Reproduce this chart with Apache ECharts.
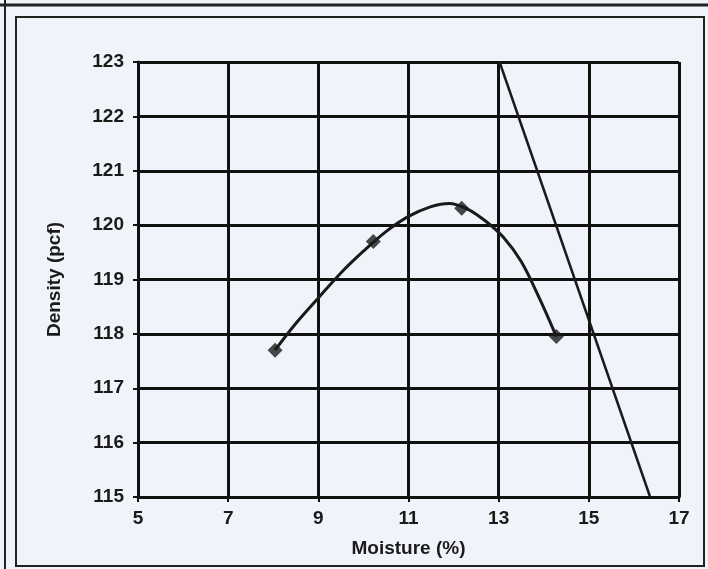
<!DOCTYPE html>
<html><head><meta charset="utf-8">
<script src="https://cdn.jsdelivr.net/npm/echarts@6/dist/echarts.min.js"></script>
<style>html,body{margin:0;padding:0;background:#f0f3fa;}#c{width:708px;height:569px;}</style>
</head><body><div id="c"></div>
<script>
const xTicks = [5, 7, 9, 11, 13, 15, 17];
const yTicks = [115, 116, 117, 118, 119, 120, 121, 122, 123];
const testMoisture = [8.04, 10.22, 12.18, 14.28];
const testDensity = [117.70, 119.70, 120.31, 117.95];
const curveMoisture = [8.04, 8.5, 9.0, 9.5, 10.0, 10.5, 11.0, 11.5, 11.9, 12.3, 12.7, 13.1, 13.5, 13.9, 14.28];
const curveDensity = [117.70, 118.19, 118.66, 119.12, 119.52, 119.88, 120.16, 120.34, 120.40, 120.30, 120.08, 119.78, 119.33, 118.66, 117.95];
const zavMoisture = [13.02, 16.36];
const zavDensity = [123, 115];

const zip = (a, b) => a.map((v, i) => [v, b[i]]);
const lab = {color: '#1a1a1a', fontFamily: 'Liberation Sans, Arial, sans-serif', fontWeight: 'bold', fontSize: 19};
const chart = echarts.init(document.getElementById('c'));
chart.setOption({
  backgroundColor: '#f0f3fa',
  animation: false,
  graphic: [
    {type: 'line', shape: {x1: 0, y1: 5, x2: 708, y2: 5}, style: {stroke: '#222', lineWidth: 3}},
    {type: 'line', shape: {x1: 5, y1: 0, x2: 5, y2: 569}, style: {stroke: '#222', lineWidth: 2}},
    {type: 'rect', shape: {x: 16, y: 17, width: 688, height: 549}, style: {fill: 'none', stroke: '#222', lineWidth: 2}}
  ],
  grid: {left: 138, right: 29, top: 62, bottom: 72},
  xAxis: {
    type: 'value', min: xTicks[0], max: xTicks[xTicks.length - 1], interval: 2,
    name: 'Moisture (%)', nameLocation: 'middle', nameGap: 42,
    nameTextStyle: lab,
    axisLine: {lineStyle: {color: '#111', width: 3}},
    axisTick: {show: true, length: 5, lineStyle: {color: '#111', width: 2}},
    axisLabel: Object.assign({margin: 12}, lab),
    splitLine: {show: true, lineStyle: {color: '#111', width: 3}}
  },
  yAxis: {
    type: 'value', min: yTicks[0], max: yTicks[yTicks.length - 1], interval: 1,
    name: 'Density (pcf)', nameLocation: 'middle', nameGap: 74, nameRotate: 90,
    nameTextStyle: lab,
    axisLine: {show: true, lineStyle: {color: '#111', width: 3}},
    axisTick: {show: true, length: 5, lineStyle: {color: '#111', width: 2}},
    axisLabel: Object.assign({margin: 14}, lab),
    splitLine: {show: true, lineStyle: {color: '#111', width: 3}}
  },
  series: [
    {type: 'line', data: zip(curveMoisture, curveDensity), smooth: 0.35, symbol: 'none',
     lineStyle: {color: '#1a1a1a', width: 3}},
    {type: 'line', data: zip(zavMoisture, zavDensity), symbol: 'none',
     lineStyle: {color: '#1a1a1a', width: 2.5}},
    {type: 'scatter', data: zip(testMoisture, testDensity), symbol: 'diamond', symbolSize: 15,
     itemStyle: {color: '#1a1a1a'}}
  ]
});
</script></body></html>
